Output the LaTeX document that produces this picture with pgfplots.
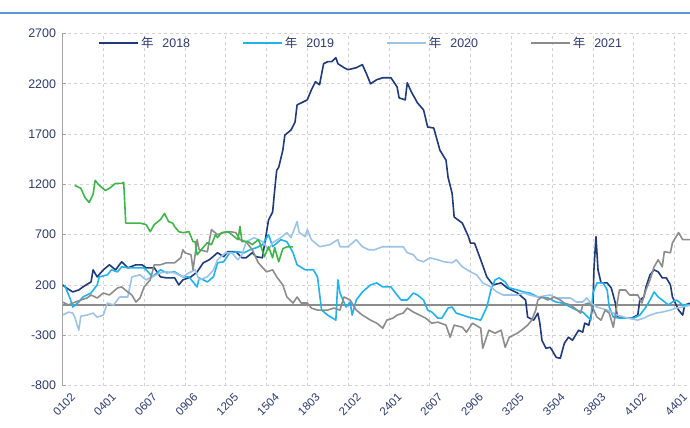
\documentclass[border=0pt]{standalone}
\usepackage{pgfplots}
\pgfplotsset{compat=1.18}
\usepackage{fontspec}
\setmainfont{Liberation Sans}
\newfontfamily\cjk{Noto Sans CJK SC}

\definecolor{c18}{HTML}{1F3A78}
\definecolor{c19}{HTML}{1FB2EB}
\definecolor{c20}{HTML}{9DC3E6}
\definecolor{c21}{HTML}{8C8C8C}
\definecolor{c22}{HTML}{3DB54A}
\definecolor{txt}{HTML}{2B3A6E}
\definecolor{gridc}{HTML}{D2D2D2}
\definecolor{topline}{HTML}{5B9BD5}

\begin{document}
\begin{tikzpicture}
\begin{axis}[
  at={(0,0)}, anchor=south west,
  scale only axis, width=627.5bp, height=352bp,
  xmin=2, xmax=309.6, ymin=-800, ymax=2700,
  axis x line*=bottom, axis y line*=left,
  x axis line style={draw=none},
  y axis line style={draw=c21!80, line width=1.2bp, -},
  xtick={2,22,...,302},
  xticklabels={0102,0401,0607,0906,1205,1504,1803,2102,2401,2607,2906,3205,3504,3803,4102,4401},
  ytick={-800,-300,...,2700},
  grid=major, major grid style={gridc, dashed, line width=0.7bp},
  xtick style={draw=none},
  ytick style={draw=c21!80, line width=0.8bp},
  tick align=inside, major tick length=3bp,
  xticklabel style={rotate=45, anchor=north east, font=\fontsize{11.5}{13}\selectfont, text=txt, xshift=4bp, yshift=-7bp},
  yticklabel style={font=\fontsize{12.5}{14}\selectfont, text=txt, xshift=-3bp},
  /pgf/number format/assume math mode=true,
  /pgf/number format/1000 sep={},
  legend columns=4,
  legend style={at={(0.0566,0.973)}, anchor=west, draw=none, fill=none,
    inner sep=0pt, font=\fontsize{12.5}{14}\selectfont, text=txt,
    /tikz/every even column/.append style={column sep=50bp}},
  legend image code/.code={\draw[#1, line width=1.8bp] (0bp,0bp) -- (39bp,0bp);},
  every axis plot/.append style={line width=1.6bp, line join=round},
]
\addplot[c21, line width=1.4bp, forget plot] coordinates {(2,0) (309.6,0)};

% 2018
\addplot[c18] coordinates {
(2,200) (4,170) (7,130) (10,150) (12,180) (16,230) (17,350) (19,280) (22,350) (25,400)
(28,350) (31,430) (34,370) (38,400) (41,400) (43,370) (47,370) (50,280) (53,270) (57,270)
(59,200) (61,250) (65,280) (68,330) (71,420) (74,450) (78,520) (81,480) (83,530) (87,530)
(90,470) (92,470) (95,520) (97,480) (100,470) (101,600) (103,845) (105,925) (106,1140) (107,1340)
(108,1370) (110,1540) (111,1690) (114,1740) (116,1820) (117,1990) (120,2020) (122,2040) (124,2140) (126,2220)
(128,2190) (130,2400) (132,2420) (134,2420) (136,2460) (137,2400) (140,2360) (142,2340) (146,2360) (149,2390)
(151,2300) (153,2200) (156,2240) (159,2260) (163,2260) (166,2170) (167,2060) (170,2040) (171,2210) (173,2120)
(176,2010) (179,1940) (181,1770) (184,1760) (187,1540) (190,1440) (191,1270) (193,1110) (194,875) (198,815)
(201,680) (202,615) (204,615) (207,450) (210,280) (213,200) (217,220) (220,170) (225,120) (229,50)
(230,-120) (233,-150) (235,-80) (236,-180) (237,-350) (239,-430) (241,-420) (242,-450) (244,-520) (246,-530)
(248,-380) (250,-320) (252,-350) (255,-250) (257,-270) (258,-180) (260,-200) (262,-20) (262.5,350) (263.5,680)
(264.5,350) (266,220) (269,220) (271,170) (273,20) (274,-120) (277,-130) (281,-130) (284,-100) (285,50)
(287,80) (288,180) (290,300) (292,350) (294,330) (296,270) (298,270) (300,200) (301,80) (304,-50)
(306,-100) (307,0) (310,20)
};
\addlegendentry{{\cjk 年}\hspace{9bp}2018}

% 2019
\addplot[c19] coordinates {
(3,200) (6,50) (7,-20) (10,30) (12,80) (16,120) (19,200) (20,280) (24,300) (26,350)
(29,330) (31,380) (34,370) (38,370) (42,370) (44,330) (46,280) (50,350) (53,320) (57,330)
(61,280) (64,280) (68,180) (69,270) (73,230) (76,280) (78,420) (81,430) (84,520) (88,530)
(91,520) (94,550) (97,570) (100,600) (103,700) (105,580) (109,650) (112,630) (115,520) (117,400)
(121,350) (125,350) (127,280) (129,-50) (132,-100) (136,-150) (137,250) (138,120) (141,-20) (143,30)
(144,-100) (146,50) (149,130) (153,200) (156,220) (159,180) (163,180) (166,100) (168,50) (171,50)
(174,120) (176,100) (179,50) (181,-50) (183,-70) (186,-130) (188,-130) (191,-30) (193,-20) (195,-80)
(198,-100) (201,-120) (203,-130) (207,-150) (210,-20) (212,150) (214,250) (216,270) (219,230) (221,170)
(225,150) (228,130) (231,120) (235,80) (240,70) (244,30) (247,20) (251,-20) (254,-50) (257,-70)
(261,-150) (262,120) (264,220) (267,220) (269,150) (270,-20) (272,-120) (275,-130) (282,-130) (285,-100)
(288,-20) (290,50) (292,130) (294,80) (296,50) (299,0) (301,30) (303,50) (306,0) (309,0)
};
\addlegendentry{{\cjk 年}\hspace{9bp}2019}

% 2020
\addplot[c20] coordinates {
(2,-100) (5,-70) (7,-80) (8,-120) (10,-250) (11,-110) (14,-100) (17,-80) (19,-120) (22,-100)
(24,20) (27,0) (30,80) (34,80) (36,280) (40,300) (43,250) (46,280) (50,320) (53,330)
(57,320) (61,280) (64,320) (67,350) (69,250) (73,280) (76,350) (78,450) (82,520) (85,520)
(88,450) (90,500) (92,630) (96,670) (100,630) (103,550) (105,620) (109,670) (112,720) (114,670)
(117,830) (118,720) (121,680) (122,750) (124,650) (128,580) (133,600) (137,650) (138,580) (142,580)
(146,650) (149,580) (152,550) (155,550) (159,580) (164,580) (169,580) (171,520) (174,500) (176,450)
(179,430) (182,470) (186,450) (189,430) (193,420) (195,450) (198,380) (202,330) (205,300) (208,220)
(212,180) (215,130) (218,100) (225,100) (228,120) (231,100) (235,80) (241,100) (244,70) (251,70)
(254,30) (257,30) (259,70) (261,20) (264,-20) (269,-50) (274,-100) (279,-130) (284,-150) (287,-130)
(290,-100) (293,-80) (296,-70) (300,-50) (303,-30) (306,-20) (310,0)
};
\addlegendentry{{\cjk 年}\hspace{9bp}2020}

% 2021
\addplot[c21] coordinates {
(2,30) (5,0) (7,20) (11,50) (14,70) (16,100) (19,70) (22,120) (25,100) (29,170)
(31,180) (34,130) (36,100) (38,30) (40,70) (42,180) (45,250) (47,400) (50,400) (53,420)
(57,420) (60,470) (61,550) (62,520) (65,500) (66,350) (68,650) (69,550) (73,530) (75,750)
(78,700) (81,720) (84,730) (87,720) (89,650) (92,630) (95,550) (98,420) (102,330) (105,350)
(107,280) (110,200) (112,80) (115,20) (117,80) (119,20) (122,20) (124,-30) (127,-50) (132,-50)
(135,-30) (138,-50) (140,80) (143,50) (146,-50) (149,-100) (153,-150) (156,-180) (159,-230) (161,-150)
(164,-130) (166,-100) (169,-80) (171,-30) (174,-70) (177,-100) (180,-130) (183,-180) (186,-170) (190,-200)
(192,-320) (194,-200) (198,-220) (200,-270) (203,-180) (207,-230) (208,-430) (211,-250) (214,-280) (217,-250)
(219,-420) (221,-320) (225,-280) (227,-250) (230,-200) (232,-150) (234,-50) (235,50) (237,80) (240,50)
(243,80) (246,50) (248,20) (251,0) (253,-30) (256,-80) (257,0) (260,20) (262,-30) (264,-120)
(266,-150) (268,-50) (270,-80) (272,-220) (274,30) (275,150) (278,150) (280,100) (284,100) (286,20)
(288,150) (290,250) (292,380) (294,450) (296,380) (297,530) (300,520) (301,620) (304,720) (306,650)
(310,650)
};
\addlegendentry{{\cjk 年}\hspace{9bp}2021}

% 2022 (no legend entry)
\addplot[c22, forget plot] coordinates {
(8,1190) (11,1160) (13,1070) (15,1020) (17,1100) (18,1240) (20,1190) (23,1140) (25,1160) (28,1210)
(31,1210) (32,1220) (33,815) (35,815) (40,815) (43,800) (45,730) (47,800) (50,850) (52,910)
(54,830) (56,815) (57,780) (59,730) (61,720) (64,730) (66,630) (67,630) (68,500) (70,550)
(73,620) (75,600) (77,700) (78,670) (80,720) (83,730) (85,700) (88,650) (89,780) (90,630)
(93,630) (95,600) (98,650) (99,600) (101,480) (103,580) (105,470) (106,570) (108,430) (110,560)
(112,580) (115,580)
};
\end{axis}
\draw[topline, line width=2bp] (-62.5bp,372.5bp) -- (627.5bp,372.5bp);
\pgfresetboundingbox
\path[use as bounding box] (-62.5bp,-42.5bp) rectangle (627.5bp,385.5bp);
\end{tikzpicture}
\end{document}
